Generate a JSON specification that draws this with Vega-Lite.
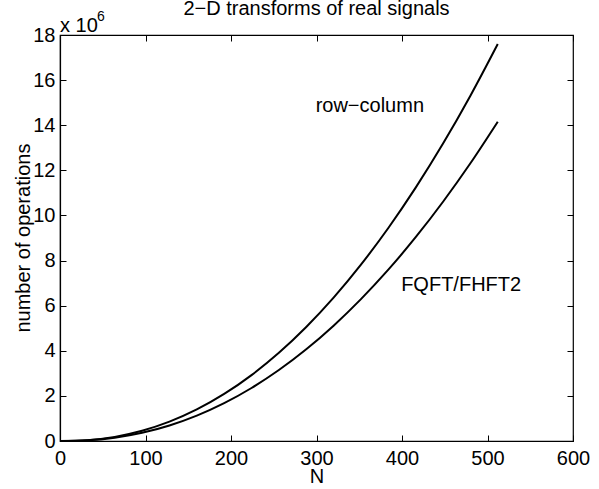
{
  "$schema": "https://vega.github.io/schema/vega-lite/v6.json",
  "width": 513,
  "height": 406,
  "autosize": "none",
  "padding": {"left": 60, "top": 35, "right": 26, "bottom": 48},
  "background": "white",
  "title": {
    "text": "2−D transforms of real signals",
    "font": "Liberation Sans",
    "fontSize": 20,
    "fontWeight": "normal",
    "color": "black",
    "anchor": "middle",
    "frame": "group",
    "baseline": "alphabetic",
    "offset": -25.5
  },
  "config": {
    "view": {"stroke": "black", "strokeWidth": 1.2},
    "axis": {
      "grid": false,
      "domainColor": "black",
      "domainWidth": 1.2,
      "tickColor": "black",
      "tickWidth": 1,
      "tickSize": -6,
      "labelColor": "black",
      "titleColor": "black",
      "labelFont": "Liberation Sans",
      "titleFont": "Liberation Sans",
      "labelFontSize": 20,
      "titleFontSize": 20,
      "titleFontWeight": "normal"
    }
  },
  "datasets": {
    "curves": [
      {"series": "row-column", "N": 0, "ops": 0},
      {"series": "row-column", "N": 32, "ops": 0.038},
      {"series": "row-column", "N": 64, "ops": 0.183},
      {"series": "row-column", "N": 96, "ops": 0.453},
      {"series": "row-column", "N": 128, "ops": 0.856},
      {"series": "row-column", "N": 160, "ops": 1.398},
      {"series": "row-column", "N": 192, "ops": 2.086},
      {"series": "row-column", "N": 224, "ops": 2.922},
      {"series": "row-column", "N": 256, "ops": 3.911},
      {"series": "row-column", "N": 288, "ops": 5.055},
      {"series": "row-column", "N": 320, "ops": 6.357},
      {"series": "row-column", "N": 352, "ops": 7.819},
      {"series": "row-column", "N": 384, "ops": 9.444},
      {"series": "row-column", "N": 416, "ops": 11.232},
      {"series": "row-column", "N": 448, "ops": 13.186},
      {"series": "row-column", "N": 480, "ops": 15.309},
      {"series": "row-column", "N": 512, "ops": 17.6},
      {"series": "FQFT/FHFT2", "N": 0, "ops": 0},
      {"series": "FQFT/FHFT2", "N": 32, "ops": 0.031},
      {"series": "FQFT/FHFT2", "N": 64, "ops": 0.147},
      {"series": "FQFT/FHFT2", "N": 96, "ops": 0.364},
      {"series": "FQFT/FHFT2", "N": 128, "ops": 0.688},
      {"series": "FQFT/FHFT2", "N": 160, "ops": 1.125},
      {"series": "FQFT/FHFT2", "N": 192, "ops": 1.678},
      {"series": "FQFT/FHFT2", "N": 224, "ops": 2.35},
      {"series": "FQFT/FHFT2", "N": 256, "ops": 3.146},
      {"series": "FQFT/FHFT2", "N": 288, "ops": 4.066},
      {"series": "FQFT/FHFT2", "N": 320, "ops": 5.113},
      {"series": "FQFT/FHFT2", "N": 352, "ops": 6.289},
      {"series": "FQFT/FHFT2", "N": 384, "ops": 7.595},
      {"series": "FQFT/FHFT2", "N": 416, "ops": 9.034},
      {"series": "FQFT/FHFT2", "N": 448, "ops": 10.606},
      {"series": "FQFT/FHFT2", "N": 480, "ops": 12.313},
      {"series": "FQFT/FHFT2", "N": 512, "ops": 14.156}
    ],
    "labels": [
      {"N": 299, "ops": 14.6, "label": "row−column"},
      {"N": 399, "ops": 6.66, "label": "FQFT/FHFT2"}
    ],
    "exp": [
      {"N": 0, "ops": 18, "label": "x 10"}
    ],
    "expsup": [
      {"N": 0, "ops": 18, "label": "6"}
    ]
  },
  "layer": [
    {
      "data": {"name": "curves"},
      "mark": {"type": "line", "color": "black", "strokeWidth": 2, "interpolate": "monotone"},
      "encoding": {
        "x": {
          "field": "N", "type": "quantitative",
          "scale": {"domain": [0, 600], "nice": false, "zero": false},
          "axis": {
            "orient": "bottom", "title": "N",
            "values": [0, 100, 200, 300, 400, 500, 600],
            "labelPadding": 13, "labelFlush": false, "labelOverlap": false,
            "titleBaseline": "alphabetic", "titleY": 41, "titleX": 256.5
          }
        },
        "y": {
          "field": "ops", "type": "quantitative",
          "scale": {"domain": [0, 18], "nice": false, "zero": false},
          "axis": {
            "orient": "left", "title": "number of operations",
            "values": [0, 2, 4, 6, 8, 10, 12, 14, 16, 18],
            "labelPadding": 11, "labelFlush": false, "labelOverlap": false,
            "titleBaseline": "alphabetic", "titleX": -30.5, "titleY": 202.6, "titleAngle": 270
          }
        },
        "detail": {"field": "series", "type": "nominal"}
      }
    },
    {
      "data": {"name": "labels"},
      "mark": {"type": "text", "align": "left", "baseline": "alphabetic", "font": "Liberation Sans", "fontSize": 20, "color": "black"},
      "encoding": {
        "x": {
          "field": "N", "type": "quantitative",
          "scale": {"domain": [0, 600], "nice": false, "zero": false},
          "axis": {"orient": "top", "title": null, "labels": false, "domain": false, "values": [0, 100, 200, 300, 400, 500, 600]}
        },
        "y": {
          "field": "ops", "type": "quantitative",
          "scale": {"domain": [0, 18], "nice": false, "zero": false},
          "axis": {"orient": "right", "title": null, "labels": false, "domain": false, "values": [0, 2, 4, 6, 8, 10, 12, 14, 16, 18]}
        },
        "text": {"field": "label", "type": "nominal"}
      }
    },
    {
      "data": {"name": "exp"},
      "mark": {"type": "text", "align": "left", "baseline": "alphabetic", "font": "Liberation Sans", "fontSize": 20, "color": "black", "dy": -3},
      "encoding": {
        "x": {"field": "N", "type": "quantitative", "axis": null},
        "y": {"field": "ops", "type": "quantitative", "axis": null},
        "text": {"field": "label", "type": "nominal"}
      }
    },
    {
      "data": {"name": "expsup"},
      "mark": {"type": "text", "align": "left", "baseline": "alphabetic", "font": "Liberation Sans", "fontSize": 14, "color": "black", "dx": 37, "dy": -14.5},
      "encoding": {
        "x": {"field": "N", "type": "quantitative", "axis": null},
        "y": {"field": "ops", "type": "quantitative", "axis": null},
        "text": {"field": "label", "type": "nominal"}
      }
    }
  ],
  "resolve": {"axis": {"x": "independent", "y": "independent"}}
}
